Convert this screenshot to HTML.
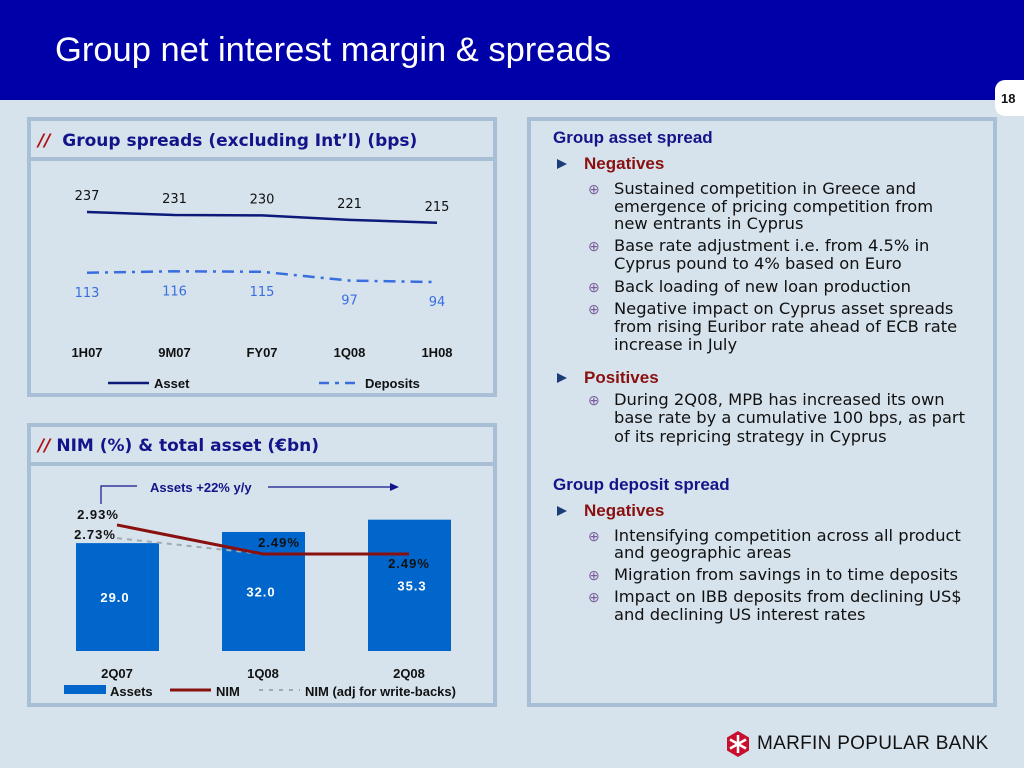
<!DOCTYPE html>
<html><head><meta charset="utf-8">
<style>
body{margin:0;width:1024px;height:768px;background:#d6e3ec;font-family:"Liberation Sans",sans-serif;position:relative;overflow:hidden}
.abs{position:absolute}
.t{position:absolute;left:614px;font-family:"DejaVu Sans",sans-serif;font-size:16.3px;line-height:20px;color:#111;white-space:nowrap}
.b{position:absolute;left:588px;font-size:14px;line-height:20px;color:#7a5a9a}
.h{position:absolute;left:553px;font-size:17px;font-weight:bold;color:#14148a;line-height:20px}
.n{position:absolute;left:584px;font-size:17px;font-weight:bold;color:#8a1010;line-height:20px}
.tri{position:absolute;left:557px;width:0;height:0;border-left:10px solid #1c3c78;border-top:5px solid transparent;border-bottom:5px solid transparent}
</style></head><body>
<div class="abs" style="left:0;top:0;width:1024px;height:100px;background:#0000a8"></div>
<div class="abs" style="left:55px;top:31px;font-size:34.5px;color:#fff">Group net interest margin &amp; spreads</div>
<div class="abs" style="left:995px;top:80px;width:40px;height:36px;background:#fff;border-radius:10px;font-size:13px;font-weight:bold;color:#111;padding:11px 0 0 6px;box-sizing:border-box">18</div>

<div class="abs" style="left:27px;top:117px;width:470px;height:280px;border:4px solid #a9bfd6;box-sizing:border-box"></div>
<div class="abs" style="left:27px;top:157px;width:470px;height:4px;background:#a9bfd6"></div>
<div class="abs" style="left:38px;top:131px;font-family:'DejaVu Sans',sans-serif;font-size:17px;font-weight:bold;color:#14148a"><span style="color:#b01010;font-style:italic">//</span>&nbsp; Group spreads (excluding Int’l) (bps)</div>
<svg class="abs" style="left:0;top:0" width="520" height="720" id="s1"></svg>

<div class="abs" style="left:27px;top:423px;width:470px;height:284px;border:4px solid #a9bfd6;box-sizing:border-box"></div>
<div class="abs" style="left:27px;top:462px;width:470px;height:4px;background:#a9bfd6"></div>
<div class="abs" style="left:38px;top:436px;font-family:'DejaVu Sans',sans-serif;font-size:17px;font-weight:bold;color:#14148a"><span style="color:#b01010;font-style:italic">//</span> NIM (%) &amp; total asset (€bn)</div>
<svg class="abs" style="left:0;top:0" width="520" height="720" id="s2"></svg>

<div class="abs" style="left:527px;top:117px;width:470px;height:590px;border:4px solid #a9bfd6;box-sizing:border-box"></div>
<div class="h" style="top:128px">Group asset spread</div>
<div class="tri" style="top:159px"></div>
<div class="n" style="top:154px">Negatives</div>
<div class="b" style="top:179px">⊕</div>
<div class="t" style="top:179px">Sustained competition in Greece and</div>
<div class="t" style="top:197px">emergence of pricing competition from</div>
<div class="t" style="top:214px">new entrants in Cyprus</div>
<div class="b" style="top:236px">⊕</div>
<div class="t" style="top:236px">Base rate adjustment i.e. from 4.5% in</div>
<div class="t" style="top:254px">Cyprus pound to 4% based on Euro</div>
<div class="b" style="top:277px">⊕</div>
<div class="t" style="top:277px">Back loading of new loan production</div>
<div class="b" style="top:299px">⊕</div>
<div class="t" style="top:299px">Negative impact on Cyprus asset spreads</div>
<div class="t" style="top:317px">from rising Euribor rate ahead of ECB rate</div>
<div class="t" style="top:335px">increase in July</div>
<div class="tri" style="top:373px"></div>
<div class="n" style="top:368px">Positives</div>
<div class="b" style="top:390px">⊕</div>
<div class="t" style="top:390px">During 2Q08, MPB has increased its own</div>
<div class="t" style="top:408px">base rate by a cumulative 100 bps, as part</div>
<div class="t" style="top:427px">of its repricing strategy in Cyprus</div>
<div class="h" style="top:475px">Group deposit spread</div>
<div class="tri" style="top:506px"></div>
<div class="n" style="top:501px">Negatives</div>
<div class="b" style="top:526px">⊕</div>
<div class="t" style="top:526px">Intensifying competition across all product</div>
<div class="t" style="top:543px">and geographic areas</div>
<div class="b" style="top:565px">⊕</div>
<div class="t" style="top:565px">Migration from savings in to time deposits</div>
<div class="b" style="top:587px">⊕</div>
<div class="t" style="top:587px">Impact on IBB deposits from declining US$</div>
<div class="t" style="top:605px">and declining US interest rates</div>

<svg class="abs" style="left:724px;top:730px" width="28" height="28">
<polygon points="14,1 25,7.5 25,20.5 14,27 3,20.5 3,7.5" fill="#c8102e"/>
<g stroke="#fff" stroke-width="2.5"><line x1="14" y1="5" x2="14" y2="23"/><line x1="6" y1="9.5" x2="22" y2="18.5"/><line x1="6" y1="18.5" x2="22" y2="9.5"/></g>
</svg>
<div class="abs" style="left:757px;top:733px;font-size:19px;color:#111;letter-spacing:0.3px">MARFIN POPULAR BANK</div>

<script>
const NS='http://www.w3.org/2000/svg';
function mk(svg,tag,a,txt){const e=document.createElementNS(NS,tag);for(const k in a)e.setAttribute(k,a[k]);if(txt!=null)e.textContent=txt;svg.appendChild(e);return e;}

const spreadCats=['1H07','9M07','FY07','1Q08','1H08'];
const assetSpread=[237,231,230,221,215];
const depositSpread=[113,116,115,97,94];

const nimCats=['2Q07','1Q08','2Q08'];
const totalAssets=[29.0,32.0,35.3];
const nimValues=[2.93,2.49,2.49];
const nimAdjValues=[2.73,2.49];
const nimLabels=['2.93%','2.49%','2.49%'];
</script>
<script>
(function(){
const s=document.getElementById('s1');
const x=i=>87+i*87.5;
const y=v=>212+(237-v)*0.49;
const ap=assetSpread.map((v,i)=>x(i)+','+y(v)).join(' ');
let e=mk(s,'polyline',{points:ap,fill:'none',stroke:'#0c1a7a','stroke-width':2.5});


const dp=depositSpread.map((v,i)=>x(i)+','+y(v)).join(' ');
e=mk(s,'polyline',{points:dp,fill:'none',stroke:'#3a6ee0','stroke-width':2.5,'stroke-dasharray':'12,6,3,6'});


assetSpread.forEach((v,i)=>{
  const t=mk(s,'text',{x:x(i),y:y(v)-12,'text-anchor':'middle','font-size':13,fill:'#111','font-family':'DejaVu Sans'},v);
  
  
});
depositSpread.forEach((v,i)=>{
  const t=mk(s,'text',{x:x(i),y:y(v)+24,'text-anchor':'middle','font-size':13,fill:'#3a6ee0','font-family':'DejaVu Sans'},v);
  
  
});
spreadCats.forEach((c,i)=>{
  const t=mk(s,'text',{x:x(i),y:357,'text-anchor':'middle','font-size':13,'font-weight':'bold',fill:'#111','font-family':'Liberation Sans'},c);
  
  
});
e=mk(s,'line',{x1:108,y1:383,x2:149,y2:383,stroke:'#0c1a7a','stroke-width':2.5});


e=mk(s,'text',{x:154,y:388,'font-size':13,'font-weight':'bold',fill:'#111','font-family':'Liberation Sans'},'Asset');


e=mk(s,'line',{x1:319,y1:383,x2:361,y2:383,stroke:'#3a6ee0','stroke-width':2.5,'stroke-dasharray':'10,6,4,6'});


e=mk(s,'text',{x:365,y:388,'font-size':13,'font-weight':'bold',fill:'#111','font-family':'Liberation Sans'},'Deposits');


})();

(function(){
const s=document.getElementById('s2');
const cx=i=>117+i*146;
const base=651;
const by=v=>base-v*3.72;
const ny=v=>554-(v-2.49)*66;
totalAssets.forEach((v,i)=>{
  const r=mk(s,'rect',{x:cx(i)-41,y:by(v),width:83,height:base-by(v),fill:'#0066cc'});
  
  
  const t=mk(s,'text',{x:cx(i)+[-2,-2,3][i],y:(by(v)+base)/2+5,'text-anchor':'middle','font-size':13,'font-weight':'bold',fill:'#fff','font-family':'Liberation Sans','letter-spacing':1},v.toFixed(1));
  
  
});
let e=mk(s,'polyline',{points:nimAdjValues.map((v,i)=>cx(i)+','+ny(v)).join(' '),fill:'none',stroke:'#a0a8b0','stroke-width':2,'stroke-dasharray':'5,5'});


e=mk(s,'polyline',{points:nimValues.map((v,i)=>cx(i)+','+ny(v)).join(' '),fill:'none',stroke:'#8a1010','stroke-width':3});


const lp=[[98,-6],[279,-7],[409,14]];
nimValues.forEach((v,i)=>{
  const t=mk(s,'text',{x:lp[i][0],y:ny(v)+lp[i][1],'text-anchor':'middle','font-size':13,'font-weight':'bold',fill:'#111','font-family':'Liberation Sans','letter-spacing':1},nimLabels[i]);
  
  
});
e=mk(s,'text',{x:95,y:ny(nimAdjValues[0])+1,'text-anchor':'middle','font-size':13,'font-weight':'bold',fill:'#111','font-family':'Liberation Sans','letter-spacing':1},nimAdjValues[0].toFixed(2)+'%');


nimCats.forEach((c,i)=>{
  const t=mk(s,'text',{x:cx(i),y:678,'text-anchor':'middle','font-size':13,'font-weight':'bold',fill:'#111','font-family':'Liberation Sans'},c);
  
  
});
e=mk(s,'polyline',{points:'101,504 101,486 137,486',fill:'none',stroke:'#14148a','stroke-width':1.2});


e=mk(s,'text',{x:150,y:492,'font-size':13,'font-weight':'bold',fill:'#14148a','font-family':'Liberation Sans'},'Assets +22% y/y');


e=mk(s,'line',{x1:268,y1:487,x2:392,y2:487,stroke:'#14148a','stroke-width':1.2});


e=mk(s,'polygon',{points:'399,487 390,483 390,491',fill:'#14148a'});


e=mk(s,'rect',{x:64,y:685,width:42,height:9,fill:'#0066cc'});


e=mk(s,'text',{x:110,y:696,'font-size':13,'font-weight':'bold',fill:'#111','font-family':'Liberation Sans'},'Assets');


e=mk(s,'line',{x1:170,y1:690,x2:211,y2:690,stroke:'#8a1010','stroke-width':3});


e=mk(s,'text',{x:216,y:696,'font-size':13,'font-weight':'bold',fill:'#111','font-family':'Liberation Sans'},'NIM');


e=mk(s,'line',{x1:259,y1:690,x2:300,y2:690,stroke:'#a0a8b0','stroke-width':2,'stroke-dasharray':'4,6'});


e=mk(s,'text',{x:305,y:696,'font-size':13,'font-weight':'bold',fill:'#111','font-family':'Liberation Sans'},'NIM (adj for write-backs)');


})();
</script>
</body></html>
